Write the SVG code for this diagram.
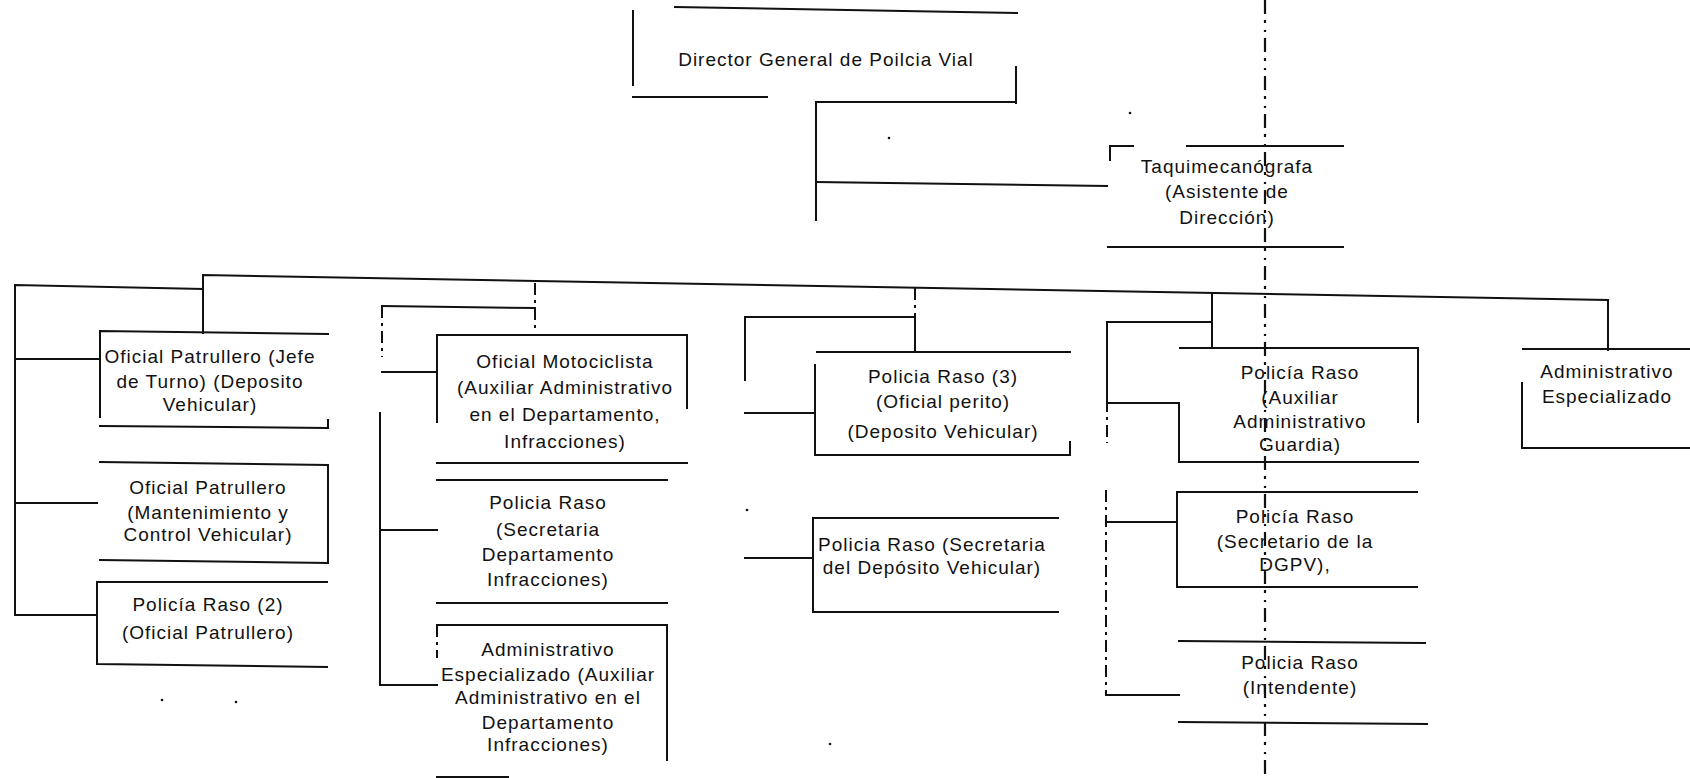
<svg xmlns="http://www.w3.org/2000/svg" width="1690" height="778" viewBox="0 0 1690 778">
<style>
.ln{fill:none;stroke:#111;stroke-width:2;stroke-linecap:square}
.ds{fill:none;stroke:#111;stroke-width:2;stroke-dasharray:12 5 3 5}
.sc{fill:none;stroke:#111;stroke-width:2.2;stroke-dasharray:14 6 3 7 2 6}
text{font-family:"Liberation Sans",Arial,sans-serif;font-size:19px;letter-spacing:1px;fill:#111;text-anchor:middle}
.dot{fill:#111}
</style>
<rect width="1690" height="778" fill="#fff"/>

<g id="connectors">
  <path class="ln" d="M1016 102 H816 V220"/>
  <path class="ln" d="M816 182 L1107 186"/>
  <path class="ln" d="M15 613 V285 L203 289"/>
  <path class="ln" d="M203 333 V275 L1608 300 V350"/>
  <path class="ln" d="M15 359 H100 M15 503 H97 M15 615 H97"/>
  <path class="ds" d="M535 283 V332"/>
  <path class="ln" d="M382 306 L535 308"/>
  <path class="ds" d="M382 306 V357"/>
  <path class="ln" d="M382 372 H437"/>
  <path class="ln" d="M380 413 V685 M380 530 H437 M380 685 H437"/>
  <path class="ln" d="M915 317 V352"/>
  <path class="ds" d="M915 288 V317"/>
  <path class="ln" d="M745 380 V317 H915"/>
  <path class="ln" d="M745 413 H815 M745 558 H813"/>
  <path class="ln" d="M1212 293 V348"/>
  <path class="ln" d="M1107 400 V322 H1212"/>
  <path class="ds" d="M1107 400 V443"/>
  <path class="ln" d="M1107 403 H1179"/>
  <path class="ln" d="M1106 522 H1177 M1106 695 H1179"/>
  <path class="ds" d="M1106 490 V695"/>
</g>

<g id="scan-line">
  <path class="sc" d="M1265 0 V778"/>
</g>

<g id="director">
  <path class="ln" d="M675 7 L1017 13 M633 11 V85 M633 97 H767 M1016 67 V103"/>
  <text x="826" y="66">Director General de Poilcia Vial</text>
</g>

<g id="taquimecanografa">
  <path class="ln" d="M1110 160 V146 H1133 M1187 146 H1343 M1108 247 H1343"/>
  <text x="1227" y="173">Taquimecanógrafa</text>
  <text x="1227" y="198">(Asistente de</text>
  <text x="1227" y="224">Dirección)</text>
</g>

<g id="oficial-patrullero-jefe">
  <path class="ln" d="M100 417 V331 L328 334 M100 426 L328 428 M328 420 V428"/>
  <text x="210" y="363">Oficial Patrullero (Jefe</text>
  <text x="210" y="388">de Turno) (Deposito</text>
  <text x="210" y="411">Vehicular)</text>
</g>

<g id="oficial-patrullero-mant">
  <path class="ln" d="M100 462 L328 465 V562 M100 560 L328 563"/>
  <text x="208" y="494">Oficial Patrullero</text>
  <text x="208" y="519">(Mantenimiento y</text>
  <text x="208" y="541">Control Vehicular)</text>
</g>

<g id="policia-raso-2">
  <path class="ln" d="M327 582 H97 V664 L327 667"/>
  <text x="208" y="611">Policía Raso (2)</text>
  <text x="208" y="639">(Oficial Patrullero)</text>
</g>

<g id="oficial-motociclista">
  <path class="ln" d="M437 422 V335 H687 V408 M437 463 H687"/>
  <text x="565" y="368">Oficial Motociclista</text>
  <text x="565" y="394">(Auxiliar Administrativo</text>
  <text x="565" y="421">en el Departamento,</text>
  <text x="565" y="448">Infracciones)</text>
</g>

<g id="policia-raso-secretaria-dep">
  <path class="ln" d="M437 480 H667 M437 603 H667"/>
  <text x="548" y="509">Policia Raso</text>
  <text x="548" y="536">(Secretaria</text>
  <text x="548" y="561">Departamento</text>
  <text x="548" y="586">Infracciones)</text>
</g>

<g id="administrativo-especializado-aux">
  <path class="ln" d="M437 625 H667 V760 M437 777 H508"/>
  <path class="ds" d="M437 625 V658"/>
  <text x="548" y="656">Administrativo</text>
  <text x="548" y="681">Especializado (Auxiliar</text>
  <text x="548" y="704">Administrativo en el</text>
  <text x="548" y="729">Departamento</text>
  <text x="548" y="751">Infracciones)</text>
</g>

<g id="policia-raso-3">
  <path class="ln" d="M817 352 H1070 M815 365 V455 H1070 V442"/>
  <text x="943" y="383">Policia Raso (3)</text>
  <text x="943" y="408">(Oficial perito)</text>
  <text x="943" y="438">(Deposito Vehicular)</text>
</g>

<g id="policia-raso-secretaria-deposito">
  <path class="ln" d="M1058 518 H813 V612 H1058"/>
  <text x="932" y="551">Policia Raso (Secretaria</text>
  <text x="932" y="574">del Depósito Vehicular)</text>
</g>

<g id="policia-raso-guardia">
  <path class="ln" d="M1180 348 H1418 V422 M1179 403 V462 H1418"/>
  <text x="1300" y="379">Policía Raso</text>
  <text x="1300" y="404">(Auxiliar</text>
  <text x="1300" y="428">Administrativo</text>
  <text x="1300" y="451">Guardia)</text>
</g>

<g id="policia-raso-dgpv">
  <path class="ln" d="M1417 492 H1177 V587 H1417"/>
  <text x="1295" y="523">Policía Raso</text>
  <text x="1295" y="548">(Secretario de la</text>
  <text x="1295" y="571">DGPV),</text>
</g>

<g id="policia-raso-intendente">
  <path class="ln" d="M1179 641 L1425 643 M1179 722 L1427 724"/>
  <text x="1300" y="669">Policia Raso</text>
  <text x="1300" y="694">(Intendente)</text>
</g>

<g id="administrativo-especializado">
  <path class="ln" d="M1523 349 H1690 M1522 383 V448 H1690"/>
  <text x="1607" y="378">Administrativo</text>
  <text x="1607" y="403">Especializado</text>
</g>

<g id="specks">
  <circle class="dot" cx="889" cy="138" r="1.3"/>
  <circle class="dot" cx="1130" cy="113" r="1.3"/>
  <circle class="dot" cx="162" cy="700" r="1.3"/>
  <circle class="dot" cx="236" cy="702" r="1.3"/>
  <circle class="dot" cx="830" cy="744" r="1.3"/>
  <circle class="dot" cx="747" cy="510" r="1.3"/>
</g>
</svg>
